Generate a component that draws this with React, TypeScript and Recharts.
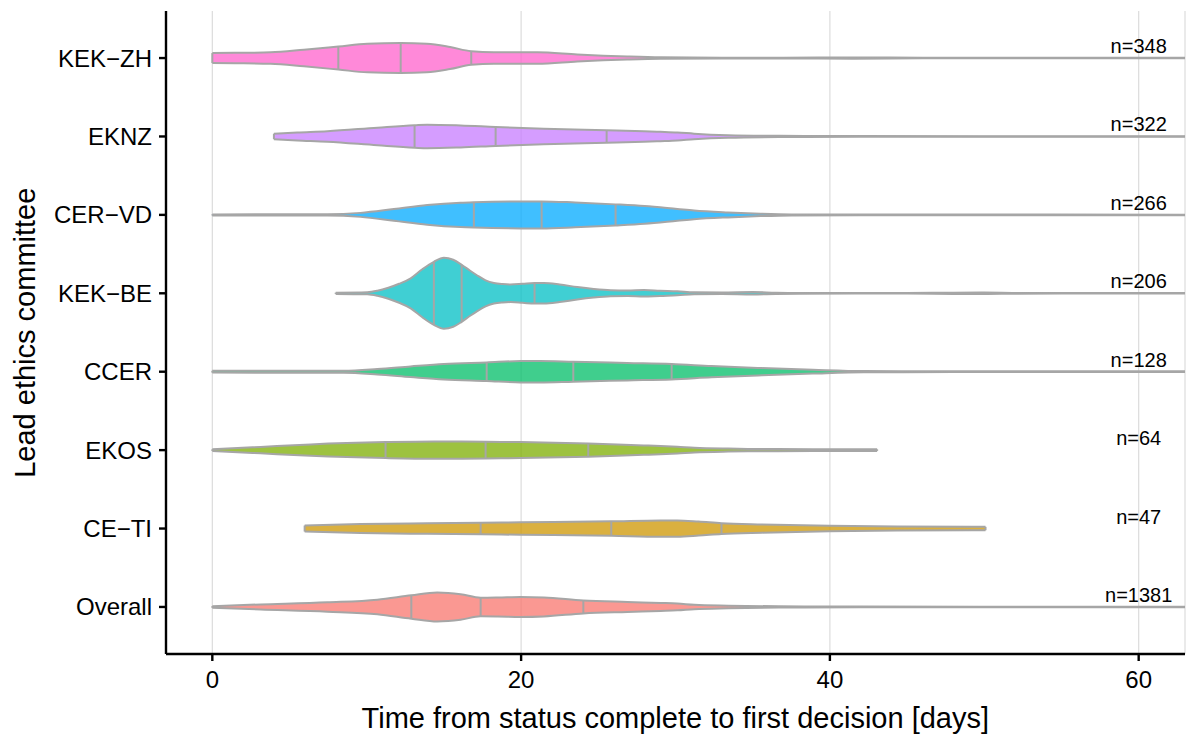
import React from "react";
import {
  ComposedChart,
  Area,
  XAxis,
  YAxis,
  CartesianGrid,
  ReferenceLine,
  Scatter,
} from "recharts";

// ---------- data ----------
// categories from bottom (y = 1) to top (y = 8)
const categories = ["Overall", "CE−TI", "EKOS", "CCER", "KEK−BE", "CER−VD", "EKNZ", "KEK−ZH"];
const sampleSizes = [1381, 47, 64, 128, 206, 266, 322, 348];
const fillColors = ["#F8766D", "#CD9600", "#7CAE00", "#00BE67", "#00BFC4", "#00A9FF", "#C77CFF", "#FF61CC"];
const xTicks = [0, 20, 40, 60];
const yTicks = [1, 2, 3, 4, 5, 6, 7, 8];

// violin profiles: evaluation days and (scaled) density half-widths; quartiles in days
const overallDays = [0, 3.13, 7.45, 10.69, 12.89, 14.57, 16.08, 17.38, 18.5, 19.97, 21.48, 24.03, 26.88, 29.03, 30.12, 31.22, 33.42, 36.7, 42, 50, 63];
const overallWidth = [0.8, 2.5, 4.7, 7.3, 11.7, 14.5, 12.8, 9.3, 9.5, 10, 9.5, 6.5, 5, 4.0, 3.4, 2.2, 1.3, 0.6, 0.35, 0.3, 0.25];
const overallQuartiles = [12.89, 17.38, 24.03];

const ceTiDays = [5.98, 9.6, 13.92, 17.38, 19.97, 25.84, 29.03, 30.12, 31.5, 32.98, 35.6, 39.99, 44.38, 50.08];
const ceTiWidth = [3, 4.5, 5.3, 5.8, 6.2, 7.2, 8.1, 8.1, 7.0, 5.4, 4.1, 2.7, 2.0, 1.7];
const ceTiQuartiles = [17.38, 25.84, 32.98];

const ekosDays = [0, 3.13, 6.37, 11.22, 14.35, 17.7, 19.97, 24.35, 27.95, 29.03, 30.12, 31.22, 33.42, 35.6, 38.9, 43.06];
const ekosWidth = [0.8, 3.2, 5.7, 8, 8.7, 8.3, 8, 6.7, 4.7, 4.2, 3.4, 2.4, 1.5, 1.1, 0.9, 0.8];
const ekosQuartiles = [11.22, 17.7, 24.35];

const ccerDays = [0, 8.52, 10.69, 12.84, 15.0, 17.77, 19.97, 21.2, 23.38, 26.88, 29.75, 32.33, 35.6, 38.9, 42.2, 48, 63];
const ccerWidth = [0.9, 1.0, 2.7, 5.3, 7.7, 9.3, 10.7, 10.8, 10, 8.7, 7.7, 5.6, 3.6, 1.9, 0.6, 0.4, 0.35];
const ccerQuartiles = [17.77, 23.38, 29.75];

const kekBeDays = [7.99, 10.04, 10.69, 11.4, 12.1, 12.85, 13.6, 14.35, 15.0, 15.6, 16.15, 16.7, 17.16, 17.7, 18.24, 18.8, 19.32, 20.1, 20.87, 21.48, 22.5, 23.64, 24.7, 25.8, 26.9, 27.95, 29.0, 30.12, 31.2, 33, 35, 36.5, 38, 45, 48, 50, 52, 55, 63];
const kekBeWidth = [0.6, 1.0, 2.5, 5.5, 9.5, 15, 24, 31.5, 35.5, 33.5, 28.5, 22.5, 17.8, 13, 10.3, 9.2, 8.8, 9.5, 10.3, 10.3, 8.8, 6.2, 4.3, 3.0, 2.7, 3.3, 2.6, 2.0, 1.0, 0.8, 1.2, 0.6, 0.35, 0.3, 0.6, 0.7, 0.4, 0.3, 0.3];
const kekBeQuartiles = [14.35, 16.15, 20.87];

const cerVdDays = [0, 7.45, 9.6, 11.76, 13.92, 16.08, 16.94, 19.97, 21.33, 23.5, 26.12, 28, 30.12, 31.2, 33.4, 35.5, 37.5, 42, 50, 63];
const cerVdWidth = [0.5, 0.6, 2, 5.8, 9.8, 12.2, 12.7, 13.5, 13.5, 12.4, 10.5, 8.8, 5.9, 4.4, 2.5, 1.2, 0.5, 0.35, 0.3, 0.25];
const cerVdQuartiles = [16.94, 21.33, 26.12];

const eknzDays = [3.99, 5.5, 7.45, 10.69, 13.1, 13.92, 16.08, 18.35, 21.48, 25.54, 27.95, 29.03, 30.12, 31.2, 33.4, 36.7, 42, 50, 63];
const eknzWidth = [2.8, 4.0, 5.3, 8.8, 11.2, 11.8, 11, 9.5, 7.8, 6.3, 5.3, 4.7, 4.0, 2.8, 1.3, 0.6, 0.35, 0.3, 0.25];
const eknzQuartiles = [13.1, 18.35, 25.54];

const kekZhDays = [0, 1.5, 3.78, 5.93, 8.16, 10.04, 12.2, 13.9, 15.4, 16.77, 18.24, 21.05, 23.64, 26.88, 29.03, 33, 37, 41.5, 46, 52, 63];
const kekZhWidth = [5, 5.2, 5.7, 8.3, 11.5, 14.3, 15, 14.3, 11, 6.8, 5.7, 5.7, 3.5, 1.5, 0.7, 0.4, 0.35, 0.6, 0.3, 0.25, 0.2];
const kekZhQuartiles = [8.16, 12.2, 16.77];

const profiles = [
  { days: overallDays, width: overallWidth, quartiles: overallQuartiles },
  { days: ceTiDays, width: ceTiWidth, quartiles: ceTiQuartiles },
  { days: ekosDays, width: ekosWidth, quartiles: ekosQuartiles },
  { days: ccerDays, width: ccerWidth, quartiles: ccerQuartiles },
  { days: kekBeDays, width: kekBeWidth, quartiles: kekBeQuartiles },
  { days: cerVdDays, width: cerVdWidth, quartiles: cerVdQuartiles },
  { days: eknzDays, width: eknzWidth, quartiles: eknzQuartiles },
  { days: kekZhDays, width: kekZhWidth, quartiles: kekZhQuartiles },
];

// ---------- styling ----------
const FONT = "'Liberation Sans', Arial, Helvetica, sans-serif";
const OUTLINE = "#A6A6A6";
const WIDTH_SCALE = 1 / 78.4; // density half-width -> category units
const X_MAX = 63;

const violinRows = profiles.map((p, i) =>
  p.days.map((d, j) => ({
    x: d,
    band: [i + 1 - p.width[j] * WIDTH_SCALE, i + 1 + p.width[j] * WIDTH_SCALE],
  }))
);

const segmentsFor = (i: number) => {
  const p = profiles[i];
  const pos = i + 1;
  const list: { x: number; w: number }[] = [];
  p.quartiles.forEach((q) => {
    const k = p.days.indexOf(q);
    list.push({ x: q, w: p.width[k] });
  });
  list.push({ x: p.days[0], w: p.width[0] });
  const last = p.days.length - 1;
  if (p.days[last] < X_MAX) list.push({ x: p.days[last], w: p.width[last] });
  return list.map((s) => ({
    x: s.x,
    lo: pos - s.w * WIDTH_SCALE,
    hi: pos + s.w * WIDTH_SCALE,
  }));
};

const labelData = categories.map((_, i) => ({ x: 60, y: i + 1, label: `n=${sampleSizes[i]}` }));

const XTitle = () => (
  <text x={675.3} y={728} textAnchor="middle" fontSize={29} fill="#000" fontFamily={FONT}>
    Time from status complete to first decision [days]
  </text>
);

const YTitle = () => (
  <text
    x={25}
    y={332.7}
    transform="rotate(-90 25 332.7)"
    textAnchor="middle"
    dominantBaseline="central"
    fontSize={29}
    fill="#000"
    fontFamily={FONT}
  >
    Lead ethics committee
  </text>
);

const NLabel = (props: any) => {
  const { cx, cy, payload } = props;
  if (cx == null || cy == null) return <g />;
  return (
    <text x={cx} y={cy - 5} textAnchor="middle" fontSize={20} fill="#000" fontFamily={FONT}>
      {payload.label}
    </text>
  );
};

export default function App() {
  return (
    <div style={{ position: "absolute", left: 0, top: 0, width: 1188, height: 740, background: "#fff" }}>
      <ComposedChart
        width={1188}
        height={740}
        margin={{ top: 11, right: 3, bottom: 0, left: 0 }}
        style={{ fontFamily: FONT }}
      >
        <CartesianGrid horizontal={false} vertical={true} stroke="#DCDCDC" strokeWidth={1.2} />
        <XAxis
          type="number"
          dataKey="x"
          domain={[-3, X_MAX]}
          ticks={xTicks}
          interval={0}
          allowDataOverflow
          height={86}
          tickSize={7}
          tickMargin={10}
          axisLine={{ stroke: "#000", strokeWidth: 2.4 }}
          tickLine={{ stroke: "#000", strokeWidth: 2.4 }}
          tick={{ fontSize: 24, fill: "#000", fontFamily: FONT }}
          label={XTitle}
        />
        <YAxis
          type="number"
          dataKey="y"
          domain={[0.4, 8.6]}
          ticks={yTicks}
          interval={0}
          allowDataOverflow
          width={166}
          tickSize={7}
          tickMargin={7}
          tickFormatter={(v: number) => categories[Math.round(v) - 1] ?? ""}
          axisLine={{ stroke: "#000", strokeWidth: 2.4 }}
          tickLine={{ stroke: "#000", strokeWidth: 2.4 }}
          tick={{ fontSize: 24, fill: "#000", fontFamily: FONT }}
          label={YTitle}
        />
        {violinRows.map((rows, i) => (
          <Area
            key={`v-${i}`}
            data={rows}
            dataKey="band"
            type="monotone"
            fill={fillColors[i]}
            fillOpacity={0.75}
            stroke={OUTLINE}
            strokeWidth={2}
            isAnimationActive={false}
            dot={false}
            activeDot={false}
          />
        ))}
        {categories.map((_, i) =>
          segmentsFor(i).map((s, j) => (
            <ReferenceLine
              key={`q-${i}-${j}`}
              segment={[
                { x: s.x, y: s.lo },
                { x: s.x, y: s.hi },
              ]}
              stroke={OUTLINE}
              strokeWidth={2}
              ifOverflow="visible"
            />
          ))
        )}
        <Scatter data={labelData} dataKey="y" shape={NLabel} isAnimationActive={false} />
      </ComposedChart>
    </div>
  );
}
